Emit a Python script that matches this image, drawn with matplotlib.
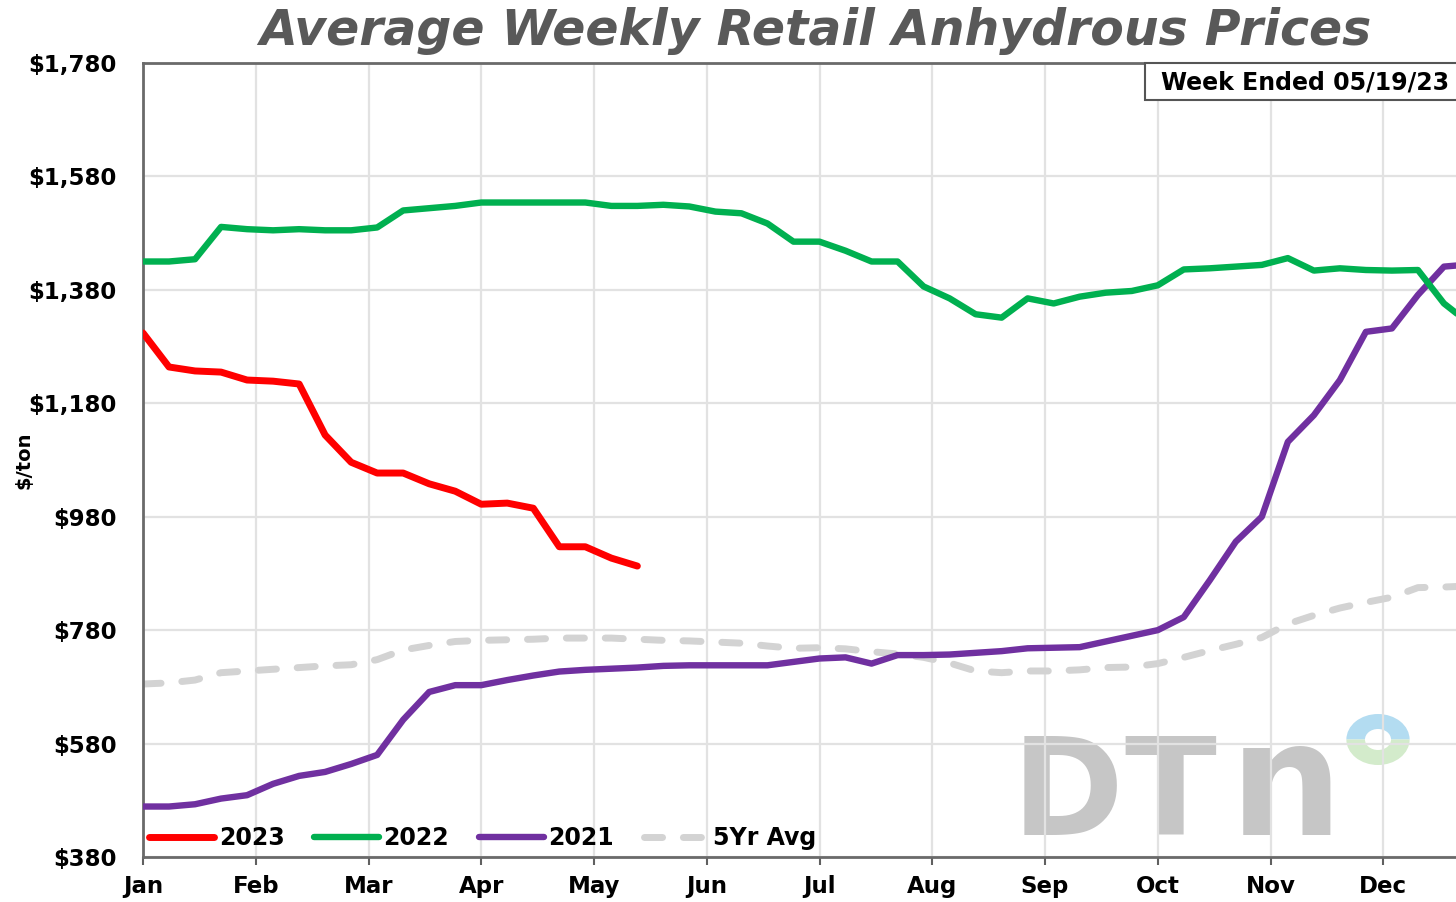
import matplotlib
matplotlib.use("Agg")
import matplotlib.pyplot as plt
import matplotlib.transforms as mtransforms
from matplotlib.patches import Rectangle, Wedge
from matplotlib.ticker import FuncFormatter

# ---------------- data ----------------
months = ["Jan", "Feb", "Mar", "Apr", "May", "Jun", "Jul", "Aug", "Sep", "Oct", "Nov", "Dec"]
y_ticks = [380, 580, 780, 980, 1180, 1380, 1580, 1780]

price_2023 = [1304, 1244, 1237, 1235, 1221, 1219, 1214, 1124, 1076, 1057,
              1057, 1038, 1025, 1002, 1004, 995, 927, 927, 907, 893]

price_2022 = [1430, 1430, 1434, 1491, 1487, 1485, 1487, 1485, 1485, 1490,
              1520, 1524, 1528, 1534, 1534, 1534, 1534, 1534, 1528, 1528,
              1530, 1527, 1518, 1515, 1497, 1465, 1465, 1449, 1430, 1430,
              1386, 1365, 1337, 1331, 1365, 1356, 1368, 1375, 1378, 1388,
              1416, 1418, 1421, 1424, 1436, 1414, 1418, 1415, 1414, 1415,
              1356, 1320]

price_2021 = [469, 469, 473, 483, 489, 509, 523, 530, 544, 560,
              622, 671, 683, 683, 692, 700, 707, 710, 712, 714,
              717, 718, 718, 718, 718, 724, 730, 732, 721, 736,
              736, 737, 740, 743, 748, 749, 750, 760, 770, 780,
              803, 868, 936, 980, 1112, 1159, 1221, 1306, 1312, 1371,
              1421, 1425]

avg_5yr = [685, 687, 692, 705, 708, 711, 714, 717, 719, 728,
           745, 753, 760, 762, 763, 764, 766, 766, 766, 764,
           762, 761, 759, 757, 752, 748, 749, 747, 742, 738,
           732, 722, 708, 705, 708, 708, 710, 714, 715, 721,
           732, 744, 755, 767, 791, 806, 819, 829, 838, 855,
           856, 858]

series_labels = ["2023", "2022", "2021", "5Yr Avg"]
title_text = "Average Weekly Retail Anhydrous Prices"
week_text = "Week Ended 05/19/23"
y_label = "$/ton"

# ---------------- figure ----------------
W, H = 1456, 902
fig = plt.figure(figsize=(W / 100, H / 100), dpi=100)
fig.patch.set_facecolor("white")
FONT = "DejaVu Sans"

# axes area extends beyond right edge (cropped, as in the reference)
ax = fig.add_axes([143 / W, (H - 857) / H, 1353 / W, 794 / H])
ax.set_xlim(0, 52)
ax.set_ylim(380, 1780)

month_pos = [i * 52 / 12 for i in range(12)]
ax.set_xticks(month_pos)
ax.set_xticklabels(months)
ax.set_yticks(y_ticks)
ax.yaxis.set_major_formatter(FuncFormatter(lambda v, p: "${:,.0f}".format(v)))

for lab in ax.get_xticklabels() + ax.get_yticklabels():
    lab.set_fontfamily(FONT)
    lab.set_fontweight("bold")
    lab.set_fontsize(16.5)
ax.tick_params(axis="x", length=6, width=1.5, color="#606060", pad=7, direction="out")
ax.tick_params(axis="y", length=0, pad=19)

ax.grid(True, color="#e2e2e2", linewidth=1.6, zorder=0.5)
ax.set_axisbelow(True)
for side in ["left", "bottom", "top"]:
    ax.spines[side].set_color("#6a6a6a")
    ax.spines[side].set_linewidth(2)
ax.spines["right"].set_visible(False)

# DTN watermark (below gridlines)
logo_col = "#c6c6c6"
ax.text(1012 / W, (H - 835) / H, "D", fontsize=97, fontweight="bold", color=logo_col,
        family=FONT, ha="left", va="baseline", transform=fig.transFigure, zorder=0.1)
ax.text(1124 / W, (H - 835) / H, "T", fontsize=97, fontweight="bold", color=logo_col,
        family=FONT, ha="left", va="baseline", transform=fig.transFigure, zorder=0.1)
ax.text(1230 / W, (H - 835) / H, "n", fontsize=114, fontweight="bold", color=logo_col,
        family=FONT, ha="left", va="baseline", transform=fig.transFigure, zorder=0.1)
ring_tr = mtransforms.Affine2D().scale(1.24, 1.0) + fig.dpi_scale_trans
cx, cy = 13.78 / 1.24, (H - 739.5) / 100
ax.add_artist(Wedge((cx, cy), 0.255, 0, 180, width=0.15, transform=ring_tr,
                    facecolor="#b3dcf1", edgecolor="none", zorder=0.1))
ax.add_artist(Wedge((cx, cy), 0.255, 180, 360, width=0.15, transform=ring_tr,
                    facecolor="#d3ebcb", edgecolor="none", zorder=0.1))

weeks23 = list(range(len(price_2023)))
weeks = list(range(len(price_2022)))

l5, = ax.plot(weeks, avg_5yr, color="#d3d3d3", linewidth=5, dash_capstyle="round",
              label=series_labels[3], zorder=2)
l5.set_dashes((2.6, 3.0))
l21, = ax.plot(weeks, price_2021, color="#7030a0", linewidth=4.6, solid_capstyle="round",
               label=series_labels[2], zorder=3)
l22, = ax.plot(weeks, price_2022, color="#00b050", linewidth=4.6, solid_capstyle="round",
               label=series_labels[1], zorder=3)
l23, = ax.plot(weeks23, price_2023, color="#ff0000", linewidth=5, solid_capstyle="round",
               label=series_labels[0], zorder=4)

leg = ax.legend(handles=[l23, l22, l21, l5], loc="center left",
                bbox_to_anchor=(149 / W, (H - 838) / H), bbox_transform=fig.transFigure,
                ncol=4, frameon=False, handlelength=2.75, handletextpad=0.2,
                columnspacing=1.25, borderpad=0, borderaxespad=0,
                prop={"family": FONT, "weight": "bold", "size": 17})

# title
fig.text(815 / W, (H - 45) / H, title_text, fontsize=35.2, fontweight="bold", style="italic",
         color="#595959", family=FONT, ha="center", va="baseline")

# week-ended box (cropped at right edge)
fig.add_artist(Rectangle((1145 / W, (H - 100) / H), 400 / W, 37 / H, transform=fig.transFigure,
                         facecolor="white", edgecolor="#555555", linewidth=1.5, zorder=5))
fig.text(1161 / W, (H - 82) / H, week_text, fontsize=17, fontweight="bold", family=FONT,
         ha="left", va="center", zorder=6)

# y label
fig.text(24 / W, (H - 460) / H, y_label, fontsize=14, fontweight="bold", family=FONT,
         rotation=90, ha="center", va="center")

fig.savefig("out.png", dpi=100)
